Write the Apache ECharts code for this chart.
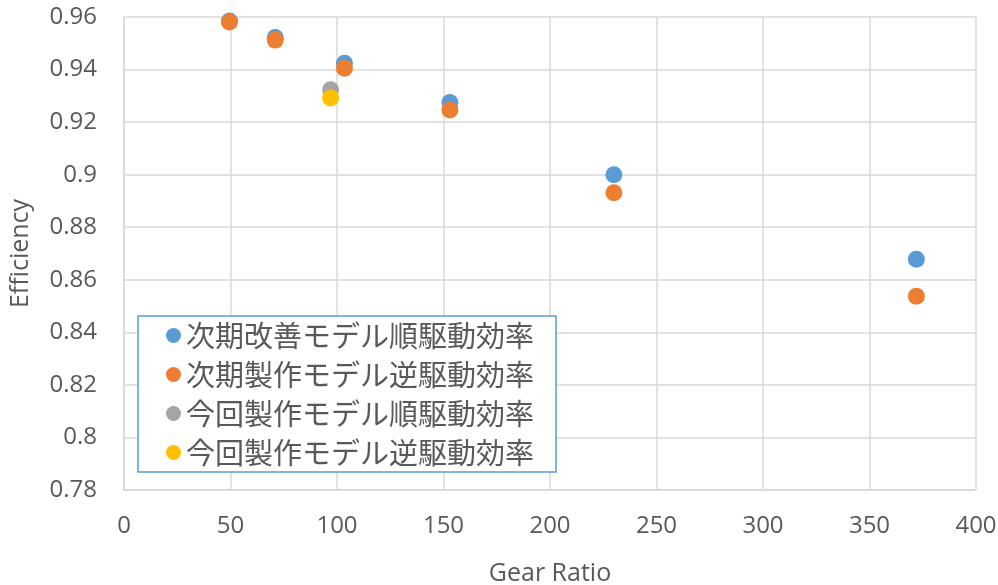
<!DOCTYPE html>
<html>
<head>
<meta charset="utf-8">
<script src="https://cdn.jsdelivr.net/npm/echarts@6/dist/echarts.min.js"></script>
<style>
  html, body { margin: 0; padding: 0; background: #fff; }
  #chart { width: 998px; height: 585px; }
</style>
</head>
<body>
<div id="chart"></div>
<script>
const seriesNames = [
  '次期改善モデル順駆動効率',
  '次期製作モデル逆駆動効率',
  '今回製作モデル順駆動効率',
  '今回製作モデル逆駆動効率'
]
const colors = ['#5B9BD5', '#ED7D31', '#A5A5A5', '#FFC000']

// [gear ratio, efficiency]
const nextForward = [[49.5, 0.9585], [71, 0.9522], [103.5, 0.9424], [153, 0.9275], [230, 0.9000], [372, 0.8678]]
const nextReverse = [[49.5, 0.9581], [71, 0.9512], [103.5, 0.9405], [153, 0.9246], [230, 0.8931], [372, 0.8537]]
const currentForward = [[97, 0.9323]]
const currentReverse = [[97, 0.9292]]
const seriesData = [nextForward, nextReverse, currentForward, currentReverse]

const labelFont = '"Open Sans", "Noto Sans", sans-serif'
const gridColor = '#D9D9D9'

const chart = echarts.init(document.getElementById('chart'))

const option = {
  animation: false,
  grid: { left: 124, right: 22, top: 17, bottom: 95, containLabel: false, outerBoundsMode: 'none' },
  xAxis: {
    type: 'value',
    min: 0,
    max: 400,
    interval: 50,
    name: 'Gear Ratio',
    nameLocation: 'middle',
    nameGap: 71,
    nameTextStyle: { color: '#595959', fontSize: 25, fontFamily: labelFont },
    axisLine: { show: true, lineStyle: { color: gridColor, width: 1.5 } },
    axisTick: { show: false },
    axisLabel: { color: '#595959', fontSize: 24, fontFamily: labelFont, margin: 24 },
    splitLine: { show: true, lineStyle: { color: gridColor, width: 1.5 } }
  },
  yAxis: {
    type: 'value',
    min: 0.78,
    max: 0.96,
    interval: 0.02,
    name: 'Efficiency',
    nameLocation: 'middle',
    nameGap: 91,
    nameTextStyle: { color: '#595959', fontSize: 25, fontFamily: labelFont },
    axisLine: { show: true, lineStyle: { color: gridColor, width: 1.5 } },
    axisTick: { show: false },
    axisLabel: {
      color: '#595959',
      fontSize: 24,
      fontFamily: labelFont,
      margin: 27,
      formatter: (v) => String(Math.round(v * 100) / 100)
    },
    splitLine: { show: true, lineStyle: { color: gridColor, width: 1.5 } }
  },
  legend: {
    orient: 'vertical',
    left: 138,
    top: 316,
    padding: [5, 22, 5, 28],
    itemGap: 10,
    itemWidth: 15,
    itemHeight: 15,
    icon: 'circle',
    borderColor: '#5B9BD5',
    borderWidth: 1.5,
    backgroundColor: '#fff',
    textStyle: {
      color: '#595959',
      fontSize: 29,
      fontFamily: '"Noto Sans CJK JP", sans-serif'
    },
    data: seriesNames
  },
  series: seriesNames.map((name, i) => ({
    name,
    type: 'scatter',
    data: seriesData[i],
    symbol: 'circle',
    symbolSize: 17,
    itemStyle: { color: colors[i], opacity: 1 }
  }))
}

chart.setOption(option)
</script>
</body>
</html>
